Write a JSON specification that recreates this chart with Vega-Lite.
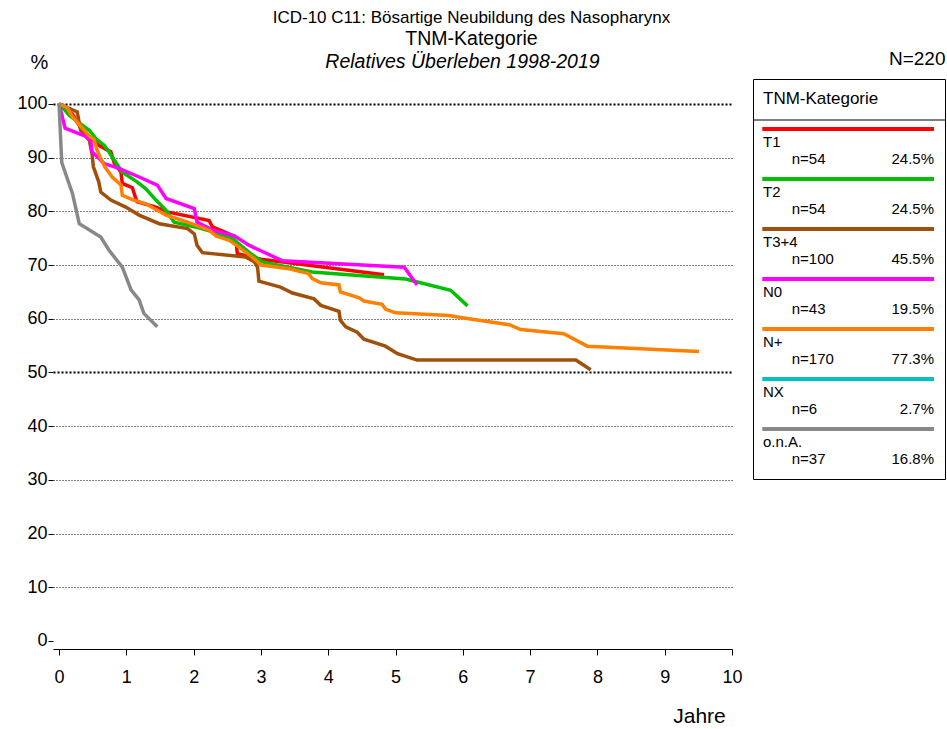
{
  "$schema": "https://vega.github.io/schema/vega-lite/v6.json",
  "autosize": {"type": "pad"},
  "padding": {"left": 16, "top": 9, "right": 0, "bottom": 0},
  "background": "white",
  "config": {
    "font": "Liberation Sans",
    "view": {"stroke": null},
    "text": {"font": "Liberation Sans", "color": "black"},
    "title": {"font": "Liberation Sans", "subtitleFont": "Liberation Sans", "color": "black", "subtitleColor": "black", "fontWeight": "normal"},
    "axis": {"labelFont": "Liberation Sans", "titleFont": "Liberation Sans", "labelColor": "black", "titleColor": "black", "domainColor": "black", "tickColor": "black", "titleFontWeight": "normal"}
  },
  "title": {
    "text": "ICD-10 C11: Bösartige Neubildung des Nasopharynx",
    "subtitle": "TNM-Kategorie",
    "fontSize": 17,
    "subtitleFontSize": 19.5,
    "subtitlePadding": 3,
    "anchor": "middle",
    "frame": "bounds",
    "dx": -10,
    "offset": 0
  },
  "bounds": "flush",
  "spacing": 21,
  "hconcat": [
    {
      "width": 679,
      "height": 570,
      "view": {"stroke": null},
      "title": {"text": "Relatives Überleben 1998-2019", "fontStyle": "italic", "fontSize": 19.5, "fontWeight": "normal", "anchor": "middle", "dx": 70, "offset": -20},
      "layer": [
        {
          "data": {"values": [
            {"g":"T1","t":0,"s":100},{"g":"T1","t":0.09,"s":99.1},{"g":"T1","t":0.2,"s":98.1},{"g":"T1","t":0.27,"s":96.6},{"g":"T1","t":0.35,"s":95.1},{"g":"T1","t":0.45,"s":93.9},{"g":"T1","t":0.59,"s":92.3},{"g":"T1","t":0.72,"s":91.4},{"g":"T1","t":0.77,"s":91.1},{"g":"T1","t":0.82,"s":89.0},{"g":"T1","t":0.92,"s":87.3},{"g":"T1","t":0.94,"s":85.2},{"g":"T1","t":1.09,"s":84.4},{"g":"T1","t":1.14,"s":82.4},{"g":"T1","t":1.16,"s":81.8},{"g":"T1","t":1.44,"s":80.8},{"g":"T1","t":1.61,"s":79.9},{"g":"T1","t":2.23,"s":78.3},{"g":"T1","t":2.28,"s":77.1},{"g":"T1","t":2.53,"s":75.8},{"g":"T1","t":2.63,"s":74.3},{"g":"T1","t":2.65,"s":72.1},{"g":"T1","t":3.0,"s":71.1},{"g":"T1","t":4.83,"s":68.2},
            {"g":"T2","t":0,"s":100},{"g":"T2","t":0.05,"s":99.4},{"g":"T2","t":0.15,"s":97.9},{"g":"T2","t":0.32,"s":96.3},{"g":"T2","t":0.45,"s":95.1},{"g":"T2","t":0.55,"s":93.5},{"g":"T2","t":0.67,"s":92.3},{"g":"T2","t":0.74,"s":91.1},{"g":"T2","t":0.84,"s":89.2},{"g":"T2","t":0.94,"s":87.3},{"g":"T2","t":1.16,"s":85.5},{"g":"T2","t":1.29,"s":84.2},{"g":"T2","t":1.44,"s":82.1},{"g":"T2","t":1.59,"s":80.2},{"g":"T2","t":1.71,"s":78.0},{"g":"T2","t":2.03,"s":77.1},{"g":"T2","t":2.28,"s":76.2},{"g":"T2","t":2.58,"s":74.9},{"g":"T2","t":2.82,"s":72.4},{"g":"T2","t":3.02,"s":70.6},{"g":"T2","t":3.76,"s":68.7},{"g":"T2","t":5.15,"s":67.4},{"g":"T2","t":5.82,"s":65.3},{"g":"T2","t":6.07,"s":62.4},
            {"g":"T3+4","t":0,"s":100},{"g":"T3+4","t":0.27,"s":98.5},{"g":"T3+4","t":0.32,"s":95.1},{"g":"T3+4","t":0.45,"s":93.2},{"g":"T3+4","t":0.49,"s":90.7},{"g":"T3+4","t":0.51,"s":88.3},{"g":"T3+4","t":0.59,"s":85.5},{"g":"T3+4","t":0.62,"s":83.6},{"g":"T3+4","t":0.77,"s":82.1},{"g":"T3+4","t":0.99,"s":80.8},{"g":"T3+4","t":1.19,"s":79.3},{"g":"T3+4","t":1.49,"s":77.7},{"g":"T3+4","t":1.91,"s":76.8},{"g":"T3+4","t":2.01,"s":75.8},{"g":"T3+4","t":2.05,"s":73.7},{"g":"T3+4","t":2.13,"s":72.3},{"g":"T3+4","t":2.77,"s":71.5},{"g":"T3+4","t":2.9,"s":70.6},{"g":"T3+4","t":2.95,"s":69.6},{"g":"T3+4","t":2.97,"s":67.0},{"g":"T3+4","t":3.29,"s":65.9},{"g":"T3+4","t":3.47,"s":64.8},{"g":"T3+4","t":3.79,"s":63.7},{"g":"T3+4","t":3.89,"s":62.5},{"g":"T3+4","t":4.16,"s":61.4},{"g":"T3+4","t":4.18,"s":59.7},{"g":"T3+4","t":4.26,"s":58.5},{"g":"T3+4","t":4.43,"s":57.5},{"g":"T3+4","t":4.53,"s":56.2},{"g":"T3+4","t":4.85,"s":54.9},{"g":"T3+4","t":5.03,"s":53.5},{"g":"T3+4","t":5.32,"s":52.3},{"g":"T3+4","t":7.68,"s":52.3},{"g":"T3+4","t":7.9,"s":50.5},
            {"g":"N0","t":0,"s":100},{"g":"N0","t":0.09,"s":95.5},{"g":"N0","t":0.4,"s":93.95},{"g":"N0","t":0.47,"s":93.2},{"g":"N0","t":0.49,"s":91.1},{"g":"N0","t":0.67,"s":88.9},{"g":"N0","t":0.89,"s":88.0},{"g":"N0","t":1.19,"s":86.4},{"g":"N0","t":1.46,"s":84.9},{"g":"N0","t":1.59,"s":82.4},{"g":"N0","t":2.01,"s":80.5},{"g":"N0","t":2.05,"s":78.0},{"g":"N0","t":2.28,"s":76.5},{"g":"N0","t":2.6,"s":75.5},{"g":"N0","t":2.82,"s":73.7},{"g":"N0","t":3.32,"s":70.8},{"g":"N0","t":5.13,"s":69.6},{"g":"N0","t":5.32,"s":66.3},
            {"g":"N+","t":0,"s":100},{"g":"N+","t":0.12,"s":99.3},{"g":"N+","t":0.2,"s":97.6},{"g":"N+","t":0.27,"s":96.6},{"g":"N+","t":0.37,"s":95.2},{"g":"N+","t":0.45,"s":94.0},{"g":"N+","t":0.52,"s":93.4},{"g":"N+","t":0.56,"s":91.6},{"g":"N+","t":0.62,"s":89.8},{"g":"N+","t":0.68,"s":88.3},{"g":"N+","t":0.79,"s":86.4},{"g":"N+","t":0.92,"s":84.9},{"g":"N+","t":0.94,"s":83.0},{"g":"N+","t":1.09,"s":82.2},{"g":"N+","t":1.29,"s":81.4},{"g":"N+","t":1.59,"s":79.3},{"g":"N+","t":1.91,"s":78.0},{"g":"N+","t":2.23,"s":76.5},{"g":"N+","t":2.33,"s":75.4},{"g":"N+","t":2.53,"s":74.6},{"g":"N+","t":2.67,"s":73.4},{"g":"N+","t":2.9,"s":71.2},{"g":"N+","t":3.0,"s":70.0},{"g":"N+","t":3.42,"s":69.3},{"g":"N+","t":3.71,"s":68.4},{"g":"N+","t":3.76,"s":67.5},{"g":"N+","t":3.89,"s":66.7},{"g":"N+","t":4.16,"s":66.3},{"g":"N+","t":4.18,"s":65.0},{"g":"N+","t":4.46,"s":63.9},{"g":"N+","t":4.53,"s":63.3},{"g":"N+","t":4.8,"s":62.7},{"g":"N+","t":4.85,"s":61.8},{"g":"N+","t":5.0,"s":61.1},{"g":"N+","t":5.79,"s":60.6},{"g":"N+","t":6.09,"s":60.0},{"g":"N+","t":6.69,"s":58.9},{"g":"N+","t":6.86,"s":58.0},{"g":"N+","t":7.5,"s":57.2},{"g":"N+","t":7.85,"s":54.9},{"g":"N+","t":9.51,"s":53.9},
            {"g":"o.n.A.","t":0,"s":100},{"g":"o.n.A.","t":0.04,"s":89.1},{"g":"o.n.A.","t":0.2,"s":83.3},{"g":"o.n.A.","t":0.3,"s":77.7},{"g":"o.n.A.","t":0.62,"s":75.2},{"g":"o.n.A.","t":0.74,"s":72.8},{"g":"o.n.A.","t":0.94,"s":69.6},{"g":"o.n.A.","t":1.07,"s":65.4},{"g":"o.n.A.","t":1.19,"s":63.5},{"g":"o.n.A.","t":1.26,"s":61.0},{"g":"o.n.A.","t":1.46,"s":58.5}
          ]},
          "mark": {"type": "line", "strokeWidth": 3.5, "clip": false},
          "encoding": {
            "x": {"field": "t", "type": "quantitative",
              "scale": {"domain": [-0.09, 10], "nice": false, "zero": false},
              "axis": {
                "values": [0,0.25,0.5,0.75,1,1.25,1.5,1.75,2,2.25,2.5,2.75,3,3.25,3.5,3.75,4,4.25,4.5,4.75,5,5.25,5.5,5.75,6,6.25,6.5,6.75,7,7.25,7.5,7.75,8,8.25,8.5,8.75,9,9.25,9.5,9.75,10],
                "format": "d",
                "labelExpr": "datum.value % 1 === 0 ? datum.label : ''",
                "tickSize": {"condition": {"test": "datum.value % 1 === 0", "value": 6}, "value": 4},
                "labelFontSize": 18, "labelPadding": 13, "labelFlush": false, "labelOverlap": false,
                "grid": false,
                "title": "Jahre", "titleFontSize": 21, "titleX": 646, "titleY": 73, "titleAlign": "center", "titleBaseline": "alphabetic"
              }
            },
            "y": {"field": "s", "type": "quantitative",
              "scale": {"domain": [-1.5, 104.65], "nice": false, "zero": false},
              "axis": {
                "values": [0,5,10,15,20,25,30,35,40,45,50,55,60,65,70,75,80,85,90,95,100],
                "format": "d",
                "labelExpr": "datum.value % 10 === 0 ? datum.label : ''",
                "tickSize": {"condition": {"test": "datum.value % 10 === 0", "value": 5}, "value": 3},
                "labelFontSize": 18, "labelPadding": 1,
                "domain": false,
                "grid": true,
                "gridColor": "black",
                "gridOpacity": {"condition": {"test": "datum.value % 10 === 0 && datum.value > 0", "value": 1}, "value": 0},
                "gridWidth": {"condition": {"test": "datum.value === 50 || datum.value === 100", "value": 2}, "value": 1},
                "gridDash": {"condition": {"test": "datum.value === 50 || datum.value === 100", "value": [2, 2]}, "value": [1, 2]},
                "title": "%", "titleAngle": 0, "titleFontSize": 20, "titleX": -14, "titleY": -11, "titleAlign": "center", "titleBaseline": "alphabetic"
              }
            },
            "color": {"field": "g", "type": "nominal",
              "scale": {"domain": ["T1","T2","T3+4","N0","N+","NX","o.n.A."], "range": ["#ff0000","#00c000","#a0500a","#ff00ff","#ff8000","#00c0c0","#888888"]},
              "legend": null}
          }
        },
        {
          "mark": {"type": "rule", "color": "black", "strokeWidth": 1},
          "encoding": {
            "x": {"datum": -0.09, "type": "quantitative"},
            "y": {"datum": 101.5, "type": "quantitative"},
            "y2": {"datum": -1.5}
          }
        }
      ]
    },
    {
      "width": 192,
      "height": 400,
      "view": {"stroke": "black", "strokeWidth": 1},
      "title": {"text": "N=220", "anchor": "end", "fontSize": 19, "fontWeight": "normal", "offset": 10},
      "layer": [
        {
          "data": {"values": [
            {"kat": "T1", "n": "n=54", "pct": "24.5%"},
            {"kat": "T2", "n": "n=54", "pct": "24.5%"},
            {"kat": "T3+4", "n": "n=100", "pct": "45.5%"},
            {"kat": "N0", "n": "n=43", "pct": "19.5%"},
            {"kat": "N+", "n": "n=170", "pct": "77.3%"},
            {"kat": "NX", "n": "n=6", "pct": "2.7%"},
            {"kat": "o.n.A.", "n": "n=37", "pct": "16.8%"}
          ]},
          "layer": [
            {
              "mark": {"type": "rule", "strokeWidth": 4},
              "encoding": {
                "y": {"field": "kat", "type": "ordinal", "bandPosition": 0, "scale": {"type": "band", "domain": ["hdr","T1","T2","T3+4","N0","N+","NX","o.n.A."], "paddingInner": 0, "paddingOuter": 0}, "axis": null},
                "x": {"datum": 9.3, "type": "quantitative", "scale": {"domain": [0, 192], "nice": false, "zero": false}, "axis": null},
                "x2": {"datum": 181},
                "color": {"field": "kat", "type": "nominal", "legend": null}
              }
            },
            {
              "mark": {"type": "text", "align": "left", "baseline": "alphabetic", "fontSize": 15, "yOffset": 18},
              "encoding": {
                "y": {"field": "kat", "type": "ordinal", "bandPosition": 0, "axis": null},
                "x": {"datum": 10, "type": "quantitative"},
                "text": {"field": "kat"}
              }
            },
            {
              "mark": {"type": "text", "align": "left", "baseline": "alphabetic", "fontSize": 15, "yOffset": 35},
              "encoding": {
                "y": {"field": "kat", "type": "ordinal", "bandPosition": 0, "axis": null},
                "x": {"datum": 38.7, "type": "quantitative"},
                "text": {"field": "n"}
              }
            },
            {
              "mark": {"type": "text", "align": "right", "baseline": "alphabetic", "fontSize": 15, "yOffset": 35},
              "encoding": {
                "y": {"field": "kat", "type": "ordinal", "bandPosition": 0, "axis": null},
                "x": {"datum": 181, "type": "quantitative"},
                "text": {"field": "pct"}
              }
            }
          ]
        },
        {
          "data": {"values": [{"header": "TNM-Kategorie"}]},
          "layer": [
            {
              "mark": {"type": "text", "align": "left", "baseline": "alphabetic", "fontSize": 17},
              "encoding": {
                "y": {"datum": "hdr", "type": "ordinal", "bandPosition": 0.5, "axis": null},
                "x": {"datum": 10, "type": "quantitative"},
                "text": {"field": "header"}
              }
            },
            {
              "mark": {"type": "rule", "color": "black", "strokeWidth": 1, "yOffset": -9},
              "encoding": {
                "y": {"datum": "T1", "type": "ordinal", "bandPosition": 0, "axis": null},
                "x": {"datum": 0, "type": "quantitative"},
                "x2": {"datum": 192}
              }
            }
          ]
        }
      ]
    }
  ]
}
